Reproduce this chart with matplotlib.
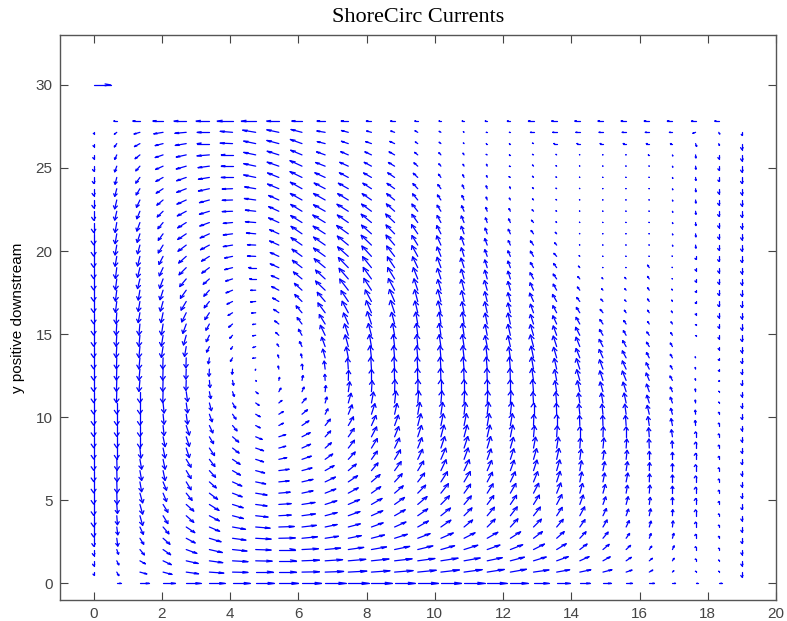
import numpy as np
import matplotlib
matplotlib.use('Agg')
import matplotlib.pyplot as plt
from matplotlib.collections import LineCollection

# Rechengitter: 29 Knoten in x, 42 Knoten in y, gleicher Abstand
dx = 19 / 28
x_nodes = np.arange(29) * dx
y_nodes = np.arange(42) * dx

# Strömungskomponenten (cm/s); Zeile 0 = y=0 (unten)
U_rows = [
    [0, 12, 27, 36, 42, 45, 51, 54, 57, 57, 60, 60, 60, 60, 60, 60, 60, 57, 51, 45, 39, 30, 24, 18, 15, 9, 6, 9, 0],
    [0, 6, 20, 26, 36, 42, 45, 51, 51, 51, 54, 54, 54, 54, 54, 54, 53, 50, 47, 45, 38, 32, 26, 17, 10, 4, 0, 0, 0],
    [0, 6, 16, 24, 35, 39, 45, 48, 51, 51, 51, 51, 51, 51, 50, 50, 47, 44, 41, 37, 34, 27, 21, 15, 9, 5, 0, 0, 0],
    [0, 5, 13, 22, 31, 38, 42, 45, 48, 48, 45, 45, 44, 44, 44, 40, 40, 37, 36, 32, 28, 21, 18, 13, 7, 5, 0, 0, 0],
    [0, 3, 11, 20, 26, 34, 39, 45, 48, 45, 39, 38, 38, 37, 36, 36, 32, 31, 30, 26, 22, 18, 15, 10, 5, 4, 0, 0, 0],
    [0, 3, 10, 17, 25, 30, 38, 42, 45, 42, 35, 35, 34, 33, 31, 29, 25, 23, 22, 23, 19, 15, 12, 9, 5, 2, 0, 0, 0],
    [0, 2, 8, 14, 22, 29, 32, 36, 36, 39, 35, 34, 33, 31, 29, 28, 23, 21, 20, 20, 16, 14, 10, 7, 4, 1, 0, 0, 0],
    [0, 2, 8, 14, 22, 28, 31, 33, 36, 38, 34, 33, 31, 29, 27, 25, 21, 19, 18, 17, 15, 10, 8, 6, 3, 0, 0, 0, 0],
    [0, 1, 8, 10, 17, 24, 28, 33, 33, 32, 31, 29, 27, 25, 23, 22, 19, 17, 16, 15, 12, 8, 7, 4, 2, 0, 0, 0, 0],
    [0, 1, 5, 10, 14, 20, 27, 29, 30, 32, 30, 27, 25, 22, 20, 19, 18, 15, 14, 12, 10, 6, 5, 5, 1, 0, 0, 0, 0],
    [0, 1, 5, 6, 14, 18, 23, 26, 30, 29, 26, 23, 19, 19, 17, 15, 15, 13, 11, 10, 9, 5, 5, 4, 1, 0, 0, 0, 0],
    [0, 1, 5, 6, 14, 16, 22, 23, 23, 27, 22, 20, 17, 17, 14, 14, 12, 11, 10, 9, 7, 4, 4, 3, 0, 0, 0, 0, 0],
    [0, 0, 3, 6, 9, 15, 19, 23, 20, 25, 18, 18, 17, 14, 12, 11, 11, 10, 9, 6, 5, 2, 3, 2, -1, -1, 0, 0, 0],
    [0, 0, 0, 6, 9, 12, 18, 19, 20, 24, 16, 17, 15, 12, 11, 9, 9, 8, 7, 3, 2, 0, 1, 0, -2, -3, 0, 0, 0],
    [0, 0, 0, 3, 9, 10, 13, 13, 13, 20, 15, 15, 13, 11, 9, 7, 7, 6, 6, 1, 0, -1, -1, -2, -4, -4, -1, 0, 0],
    [0, 0, 0, 3, 4, 8, 10, 13, 13, 16, 8, 11, 10, 7, 6, 5, 4, 4, 4, 0, -1, -3, -3, -4, -6, -5, -1, 0, 0],
    [0, 0, 0, 3, 4, 6, 9, 10, 9, 12, 5, 8, 6, 4, 3, 3, 2, 2, 2, -2, -3, -4, -5, -6, -7, -6, -1, 0, 0],
    [0, -1, 0, -1, 4, 4, 5, 7, 6, 6, 2, 4, 2, 1, 1, 0, 0, 0, 0, -3, -5, -7, -8, -9, -8, -6, -1, 0, 0],
    [0, -1, -3, -1, -1, 2, 3, 2, 2, 3, -1, 1, 0, -1, -1, -1, -1, -1, -1, -5, -6, -9, -9, -11, -9, -7, -1, 0, 0],
    [0, -1, -3, -1, -1, -1, -1, -1, -2, 0, -3, -2, -2, -2, -2, -2, -3, -3, -3, -6, -7, -10, -10, -11, -9, -6, -1, 0, 0],
    [0, -1, -3, -1, -1, -3, -6, -9, -3, -3, -7, -6, -4, -3, -3, -3, -4, -4, -5, -7, -9, -11, -11, -11, -8, -6, -1, 0, 0],
    [0, -2, -3, -5, -5, -8, -5, -8, -5, -7, -10, -9, -6, -4, -3, -5, -5, -6, -7, -9, -10, -11, -11, -10, -8, -6, 0, 0, 0],
    [0, -2, -3, -5, -8, -9, -8, -9, -9, -10, -14, -11, -9, -6, -4, -5, -5, -6, -7, -9, -10, -12, -10, -8, -7, -5, 0, 0, 0],
    [0, -2, -3, -5, -10, -10, -11, -9, -12, -14, -17, -14, -12, -9, -6, -5, -5, -6, -7, -9, -11, -11, -9, -7, -5, -4, 0, 0, 0],
    [0, -2, -5, -6, -13, -13, -13, -12, -15, -17, -21, -18, -15, -12, -8, -8, -6, -7, -7, -9, -11, -10, -8, -5, -5, -3, 0, 0, 0],
    [0, -4, -5, -8, -15, -15, -16, -15, -18, -21, -23, -21, -18, -15, -9, -9, -7, -7, -7, -11, -12, -9, -6, -4, -5, -2, 0, 0, 0],
    [0, -4, -5, -9, -17, -16, -19, -15, -21, -22, -28, -25, -22, -18, -11, -9, -8, -8, -7, -10, -10, -7, -4, -4, -5, -2, 0, 0, 0],
    [0, -4, -7, -10, -19, -18, -20, -18, -22, -25, -28, -27, -24, -20, -13, -10, -8, -7, -7, -10, -10, -6, -3, -4, -5, -1, 0, 0, 0],
    [0, -4, -7, -11, -21, -22, -23, -21, -25, -28, -32, -29, -26, -21, -15, -11, -9, -7, -7, -9, -9, -4, -1, -1, -5, -1, 0, 0, 0],
    [0, -5, -7, -12, -22, -23, -23, -24, -25, -29, -34, -31, -28, -23, -17, -11, -8, -7, -7, -9, -8, -2, -1, -1, -1, -1, 0, 0, 0],
    [0, -5, -7, -14, -24, -26, -27, -24, -27, -32, -34, -32, -30, -25, -17, -12, -9, -7, -6, -9, -6, -1, -1, -1, -1, 1, 1, 0, 0],
    [0, -5, -8, -14, -25, -27, -27, -27, -27, -32, -35, -34, -29, -25, -18, -12, -8, -6, -6, -7, -4, -1, -1, -1, -1, 1, 1, 0, 0],
    [0, -5, -9, -15, -25, -28, -27, -30, -30, -33, -36, -32, -30, -26, -17, -11, -8, -5, -5, -6, -2, -1, -1, -1, -1, 1, 1, 0, 0],
    [0, -6, -9, -17, -26, -29, -30, -30, -30, -33, -34, -33, -29, -24, -17, -11, -7, -4, -4, -4, -2, -1, -1, -1, -1, 1, 1, 0, 0],
    [0, -6, -10, -18, -27, -29, -30, -33, -30, -34, -34, -31, -27, -23, -15, -10, -6, -3, -3, -3, -2, -1, -1, -1, -1, 1, 1, 0, 0],
    [0, -6, -11, -20, -28, -32, -30, -32, -33, -34, -32, -29, -25, -22, -14, -9, -5, -3, -2, -3, -2, -1, -1, -1, -1, 1, 1, 0, 0],
    [0, -5, -12, -21, -28, -32, -33, -35, -33, -35, -30, -26, -23, -20, -13, -7, -4, -2, -4, -3, -2, -1, -1, -1, -1, 1, 1, 0, 0],
    [0, -6, -12, -22, -29, -33, -33, -35, -34, -35, -28, -25, -21, -18, -11, -6, -3, -2, -3, -3, -2, -1, -1, -1, -1, 1, 1, 0, 0],
    [0, -6, -14, -23, -29, -36, -33, -35, -34, -33, -25, -22, -19, -16, -9, -6, -3, -3, -3, -3, -2, -1, -1, -1, -3, 1, 1, 0, 0],
    [0, -7, -16, -23, -32, -36, -36, -35, -35, -34, -23, -20, -17, -14, -7, -5, -2, -3, -3, -3, -9, -9, -9, -9, -9, -6, 3, 2, 0],
    [0, -7, -17, -27, -33, -36, -36, -38, -35, -32, -24, -20, -14, -11, -8, -5, -2, -3, -3, -9, -12, -12, -12, -12, -12, -9, -8, 3, 0],
    [0, -9, -21, -30, -36, -39, -45, -42, -36, -30, -24, -21, -15, -12, -9, -6, -6, -6, -9, -15, -15, -15, -15, -15, -15, -15, -12, -12, 0],
]

V_rows = [
    [0] * 29,
    [-18, -21, -11, -14, -10, -6, -2, 0, 0, 2, 4, 6, 8, 9, 11, 13, 15, 16, 17, 13, 14, 14, 14, 12, 12, 8, 6, 6, -30],
    [-30, -24, -18, -23, -16, -11, -5, -2, 0, 4, 7, 9, 11, 12, 14, 16, 17, 19, 22, 23, 25, 25, 24, 21, 15, 15, 12, 6, -30],
    [-36, -28, -32, -31, -23, -18, -9, -3, 0, 5, 9, 13, 16, 19, 22, 23, 26, 27, 29, 33, 35, 33, 31, 25, 20, 22, 18, 9, -30],
    [-48, -47, -36, -36, -28, -21, -11, -5, 2, 9, 12, 16, 20, 24, 28, 32, 33, 36, 39, 40, 40, 39, 37, 29, 28, 29, 24, 12, -30],
    [-60, -47, -44, -41, -34, -26, -14, -7, 3, 10, 15, 19, 25, 30, 36, 41, 42, 47, 49, 47, 46, 44, 42, 38, 35, 36, 30, 12, -30],
    [-66, -54, -58, -47, -40, -31, -17, -8, 4, 11, 19, 25, 30, 36, 41, 46, 47, 51, 53, 52, 50, 53, 43, 39, 41, 36, 36, 12, -30],
    [-66, -54, -58, -47, -40, -36, -20, -9, 5, 12, 22, 29, 36, 42, 47, 52, 51, 53, 55, 56, 59, 56, 45, 46, 42, 42, 36, 18, -30],
    [-66, -66, -58, -50, -43, -37, -22, -11, 6, 14, 25, 32, 39, 44, 48, 57, 54, 56, 58, 59, 61, 58, 52, 47, 48, 42, 36, 18, -30],
    [-66, -66, -59, -50, -47, -36, -25, -12, 6, 15, 29, 37, 44, 49, 53, 61, 62, 58, 60, 61, 63, 59, 53, 53, 48, 42, 36, 18, -30],
    [-66, -66, -59, -59, -47, -40, -27, -14, 8, 16, 30, 39, 46, 54, 57, 65, 65, 61, 62, 63, 64, 59, 53, 53, 48, 42, 36, 18, -30],
    [-66, -66, -59, -59, -47, -43, -30, -15, 10, 19, 32, 44, 49, 57, 60, 67, 68, 62, 63, 64, 65, 60, 53, 54, 48, 42, 36, 18, -30],
    [-66, -66, -60, -59, -57, -45, -30, -16, 11, 23, 32, 47, 57, 60, 62, 68, 69, 69, 64, 65, 65, 60, 60, 54, 54, 42, 36, 18, -30],
    [-66, -66, -66, -59, -57, -41, -32, -16, 13, 25, 35, 50, 59, 61, 68, 70, 70, 70, 70, 66, 66, 60, 60, 60, 54, 42, 30, 18, -30],
    [-66, -66, -66, -60, -57, -44, -32, -14, 14, 28, 38, 52, 60, 62, 70, 70, 71, 71, 71, 66, 66, 60, 60, 60, 53, 41, 30, 15, -30],
    [-66, -66, -66, -60, -59, -45, -29, -15, 16, 27, 32, 56, 63, 64, 71, 71, 71, 72, 72, 66, 66, 60, 60, 60, 53, 35, 24, 12, -30],
    [-66, -66, -66, -60, -59, -46, -31, -14, 15, 28, 35, 58, 65, 71, 72, 72, 72, 72, 72, 66, 66, 59, 59, 59, 46, 34, 17, 6, -30],
    [-66, -66, -66, -66, -59, -41, -28, -12, 21, 27, 36, 59, 66, 72, 72, 72, 72, 72, 72, 72, 65, 65, 58, 57, 45, 27, 16, 3, -30],
    [-66, -66, -66, -66, -60, -42, -29, -5, 18, 29, 36, 60, 66, 72, 72, 72, 72, 72, 72, 71, 65, 64, 57, 56, 44, 26, 10, -6, -30],
    [-66, -66, -66, -66, -60, -42, -30, -6, 18, 30, 48, 66, 72, 72, 72, 72, 72, 72, 72, 71, 64, 63, 56, 49, 38, 21, 10, -12, -30],
    [-66, -66, -66, -66, -60, -35, -21, -3, 17, 23, 52, 65, 72, 72, 72, 72, 72, 71, 65, 70, 63, 56, 50, 42, 32, 21, 6, -15, -33],
    [-66, -66, -66, -65, -59, -33, -16, -6, 15, 30, 56, 70, 71, 71, 72, 71, 71, 65, 65, 70, 63, 56, 43, 36, 26, 21, 0, -18, -36],
    [-66, -66, -66, -65, -58, -38, -18, -3, 17, 36, 60, 68, 70, 71, 71, 71, 71, 65, 65, 64, 56, 48, 35, 28, 20, 16, -3, -21, -36],
    [-66, -66, -66, -65, -56, -37, -19, -3, 19, 39, 57, 66, 74, 70, 71, 71, 71, 65, 65, 57, 49, 40, 27, 21, 15, 13, -6, -24, -36],
    [-66, -66, -59, -59, -55, -41, -16, -2, 20, 41, 59, 69, 72, 74, 70, 70, 65, 65, 58, 51, 42, 32, 20, 15, 15, 10, -12, -30, -36],
    [-66, -65, -59, -58, -52, -38, -16, -3, 21, 42, 55, 65, 69, 72, 70, 70, 64, 58, 52, 50, 42, 24, 14, 9, 15, 8, -12, -30, -36],
    [-66, -65, -59, -57, -49, -36, -16, -1, 22, 41, 55, 67, 71, 70, 68, 63, 64, 58, 52, 44, 36, 19, 9, 9, 15, 6, -12, -30, -36],
    [-66, -65, -58, -56, -46, -32, -13, 0, 20, 42, 53, 64, 69, 68, 67, 63, 58, 52, 46, 37, 29, 14, 7, 9, 15, 2, -18, -30, -36],
    [-66, -65, -58, -49, -43, -33, -12, 0, 23, 44, 54, 61, 66, 65, 65, 62, 57, 46, 39, 31, 25, 9, 1, 1, 15, 2, -18, -30, -36],
    [-66, -59, -58, -48, -40, -29, -10, 2, 23, 43, 50, 57, 62, 62, 64, 56, 51, 40, 33, 31, 18, 5, 1, 1, 1, 2, -18, -30, -36],
    [-66, -59, -52, -47, -37, -28, -9, 2, 25, 45, 48, 54, 59, 60, 57, 55, 51, 39, 27, 25, 14, 2, 1, 1, 1, -6, -18, -30, -36],
    [-66, -59, -51, -39, -34, -25, -7, 5, 25, 45, 46, 50, 52, 53, 55, 49, 45, 34, 27, 20, 9, 2, 1, 1, 1, -6, -18, -30, -36],
    [-60, -59, -51, -37, -32, -21, -5, 5, 28, 42, 45, 45, 50, 51, 49, 42, 39, 28, 22, 14, 5, 2, 1, 1, 1, -6, -18, -30, -36],
    [-54, -53, -45, -34, -28, -18, -2, 7, 28, 41, 39, 42, 43, 44, 43, 36, 33, 23, 16, 9, 3, 2, 1, 1, 1, -6, -18, -30, -36],
    [-48, -53, -44, -31, -25, -16, -2, 9, 27, 39, 39, 38, 38, 38, 37, 30, 27, 17, 11, 7, 3, 2, 1, 1, 1, -6, -18, -30, -36],
    [-42, -46, -37, -27, -22, -14, -2, 11, 28, 39, 34, 33, 33, 32, 31, 25, 22, 17, 11, 7, 3, 2, 1, 1, 1, -6, -18, -30, -36],
    [-36, -41, -34, -24, -20, -11, 0, 15, 27, 35, 28, 28, 27, 28, 25, 19, 16, 11, 5, 7, 3, 2, 1, 1, 1, -6, -18, -24, -36],
    [-30, -34, -28, -20, -17, -9, 0, 15, 24, 33, 22, 23, 23, 22, 20, 14, 11, 11, 0, 7, 3, 2, 1, 1, 1, -6, -18, -24, -36],
    [-24, -27, -23, -16, -13, -6, 0, 15, 22, 28, 18, 19, 18, 18, 15, 13, 10, 3, 0, 3, 3, 2, 1, 1, 0, -6, -18, -24, -36],
    [-18, -20, -18, -12, -11, 0, 3, 15, 19, 25, 12, 14, 12, 13, 10, 8, 4, 0, 0, 3, 0, 0, 0, 0, 0, 0, -17, -11, -36],
    [-9, -11, -10, -9, -6, 0, 6, 13, 15, 17, 8, 11, 8, 8, 9, 6, 4, 0, 0, 0, 0, 0, 0, 0, 0, 0, -6, -10, -18],
    [0] * 29,
]

# Referenzpfeil oben links
ref_x, ref_y = 0, 30
ref_u, ref_v = 50, 0

U = np.array(U_rows, dtype=float)
V = np.array(V_rows, dtype=float)
X, Y = np.meshgrid(x_nodes, y_nodes)
mask = (U != 0) | (V != 0)

# Pfeile im Stil von MATLAB quiver: Schaft + Spitze, in Datenkoordinaten
scale = 100.0          # cm/s pro Achseneinheit
alpha, beta = 0.33, 0.33


def arrow_segments(x, y, u, v):
    du, dv = u / scale, v / scale
    tx, ty = x + du, y + dv
    segs = []
    for i in range(len(x)):
        shaft = [(x[i], y[i]), (tx[i], ty[i])]
        head = [(tx[i] - alpha * (du[i] + beta * dv[i]), ty[i] - alpha * (dv[i] - beta * du[i])),
                (tx[i], ty[i]),
                (tx[i] - alpha * (du[i] - beta * dv[i]), ty[i] - alpha * (dv[i] + beta * du[i]))]
        segs.append(shaft)
        segs.append(head)
    return segs


plt.rcParams['font.family'] = 'Liberation Sans'

fig = plt.figure(figsize=(7.87, 6.21), dpi=100)
ax = fig.add_axes([59.5 / 787, 21 / 621, 716.5 / 787, 565 / 621])

segs = arrow_segments(X[mask], Y[mask], U[mask], V[mask])
segs += arrow_segments(np.array([ref_x]), np.array([ref_y]), np.array([ref_u]), np.array([ref_v]))
ax.add_collection(LineCollection(segs, colors='blue', linewidths=0.9, capstyle='round'))

ax.set_xlim(-1, 20)
ax.set_ylim(-1, 33)
ax.set_xticks(np.arange(0, 21, 2))
ax.set_yticks(np.arange(0, 31, 5))
ax.tick_params(direction='in', top=True, right=True, length=6, width=0.8,
               labelsize=11, colors='#444444', pad=5)
for s in ax.spines.values():
    s.set_color('#555555')
    s.set_linewidth(1.0)

ax.set_ylabel('y positive downstream', fontsize=11)
ax.yaxis.set_label_coords(-0.048, 0.5)
ax.set_title('ShoreCirc Currents', family='Liberation Serif', fontsize=16, pad=9)

fig.savefig('out.png', dpi=100)
